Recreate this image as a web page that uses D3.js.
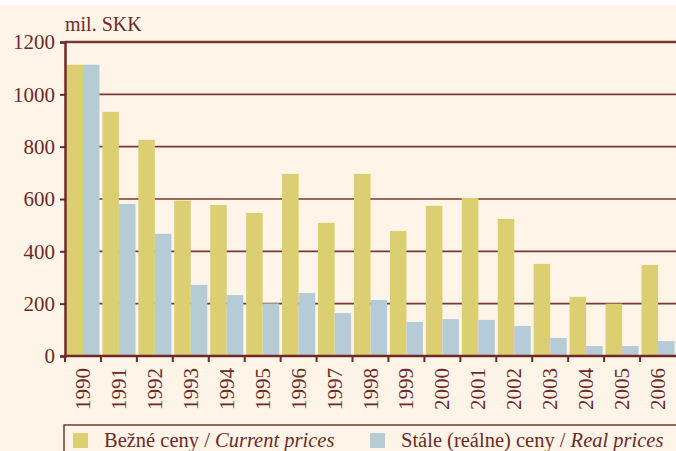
<!DOCTYPE html>
<html><head><meta charset="utf-8">
<script src="https://cdn.jsdelivr.net/npm/d3@7"></script>
<style>html,body{margin:0;padding:0;background:#fff;}svg{display:block;}</style>
</head><body>
<script>
const years = ["1990","1991","1992","1993","1994","1995","1996","1997","1998","1999","2000","2001","2002","2003","2004","2005","2006"];
const currentPrices = [1113, 933, 826, 594, 577, 547, 696, 509, 696, 478, 574, 604, 524, 352, 226, 200, 348];
const realPrices = [1113, 581, 467, 272, 233, 201, 241, 164, 214, 130, 141, 138, 115, 69, 38, 38, 57];
const yTicks = [0, 200, 400, 600, 800, 1000, 1200];
const seriesNames = ["current", "real"];

const W = 676, H = 451;
const C = {bg:"#fef4e8", ink:"#6e2a26", grid:"#7a3832", yellow:"#dccf72", blue:"#b5cbd5"};
const FONT = "Liberation Serif";
const m = {left:65, right:0, top:42, bottom:95};

const svg = d3.select("body").append("svg").attr("width", W).attr("height", H);
svg.append("rect").attr("x",0).attr("y",5).attr("width",W).attr("height",H-5).attr("fill",C.bg);

const x = d3.scaleBand().domain(years).range([m.left, W - m.right]).paddingInner(0.08).paddingOuter(0.04);
const xs = d3.scaleBand().domain(seriesNames).range([0, x.bandwidth()]);
const y = d3.scaleLinear().domain([0, 1200]).range([H - m.bottom, m.top]);

// gridlines
svg.append("g").selectAll("line").data(yTicks.filter(d => d > 0)).join("line")
  .attr("x1", m.left).attr("x2", W).attr("y1", d => y(d)).attr("y2", d => y(d))
  .attr("stroke", C.grid).attr("stroke-width", d => d === 1200 ? 2.5 : 1.6);

// bars
const data = years.map((yr, i) => ({yr, vals:[{k:"current", v:currentPrices[i]}, {k:"real", v:realPrices[i]}]}));
const g = svg.append("g").selectAll("g").data(data).join("g").attr("transform", d => `translate(${x(d.yr)},0)`);
g.selectAll("rect").data(d => d.vals).join("rect")
  .attr("x", d => xs(d.k)).attr("width", xs.bandwidth())
  .attr("y", d => y(d.v)).attr("height", d => y(0) - y(d.v))
  .attr("fill", d => d.k === "current" ? C.yellow : C.blue);

// y axis
const yAxis = svg.append("g").attr("transform", `translate(${m.left},0)`)
  .call(d3.axisLeft(y).tickValues(yTicks).tickFormat(d3.format("d")).tickSize(5).tickPadding(5));
yAxis.attr("font-family", FONT).attr("font-size", 21);
yAxis.select(".domain").attr("stroke", C.ink).attr("stroke-width", 2.5);
yAxis.selectAll(".tick line").attr("stroke", C.ink).attr("stroke-width", 2);
yAxis.selectAll("text").attr("fill", C.ink).attr("dy", "0.33em");

// x axis
const step = x.step();
const xAxis = svg.append("g").attr("transform", `translate(0,${y(0)})`);
xAxis.append("line").attr("x1", m.left - 1).attr("x2", W).attr("y1", 0).attr("y2", 0).attr("stroke", C.ink).attr("stroke-width", 2.5);
xAxis.selectAll(".tk").data(years).join("line").attr("class","tk")
  .attr("x1", d => x(d) - step * 0.08 / 2).attr("x2", d => x(d) - step * 0.08 / 2)
  .attr("y1", 0).attr("y2", 6).attr("stroke", C.ink).attr("stroke-width", 2);
xAxis.selectAll("text").data(years).join("text")
  .attr("transform", d => `translate(${x(d) + x.bandwidth()/2 + 7},12) rotate(-90)`)
  .attr("text-anchor", "end").attr("fill", C.ink)
  .attr("font-family", FONT).attr("font-size", 21).text(d => d);

// unit label
svg.append("text").attr("x", 65).attr("y", 31).attr("fill", C.ink)
  .attr("font-family", FONT).attr("font-size", 20).text("mil. SKK");

// legend
svg.append("rect").attr("x", 64).attr("y", 425).attr("width", W).attr("height", 40)
  .attr("fill", "none").attr("stroke", C.grid).attr("stroke-width", 1.5);
const legend = [
  {fill: C.yellow, x: 73, a: "Bežné ceny / ", b: "Current prices"},
  {fill: C.blue, x: 370, a: "Stále (reálne) ceny / ", b: "Real prices"}
];
legend.forEach(l => {
  svg.append("rect").attr("x", l.x).attr("y", 433).attr("width", 15).attr("height", 15).attr("fill", l.fill);
  const t = svg.append("text").attr("x", l.x + 31).attr("y", 447).attr("fill", C.ink)
    .attr("font-family", FONT).attr("font-size", 20.5);
  t.append("tspan").text(l.a);
  t.append("tspan").attr("font-style", "italic").text(l.b);
});
</script>
</body></html>
